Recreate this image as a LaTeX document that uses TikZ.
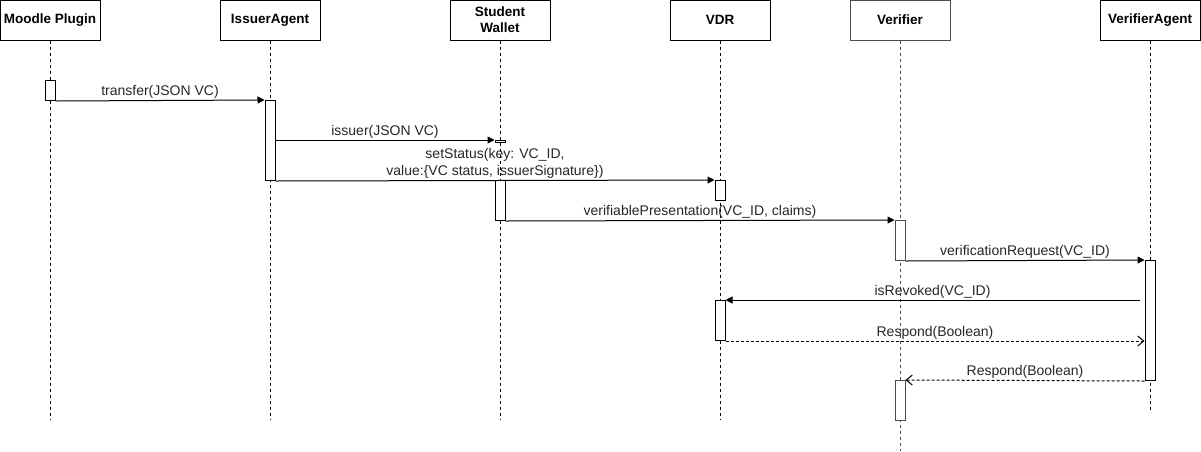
\documentclass[tikz,border=0pt]{standalone}
\usepackage{fontspec}
\setmainfont{Liberation Sans}
\usetikzlibrary{arrows.meta}
\usetikzlibrary{positioning}

\tikzset{
    head/.style={draw, line width=1pt, minimum width=100pt, minimum height=40pt, inner sep=0pt, align=center, font=\bfseries\fontsize{13.5}{16}\selectfont},
    life/.style={line width=1pt, dash pattern=on 3pt off 3pt},
    act/.style={draw, fill=white, line width=1pt, minimum width=10pt, inner sep=0pt, anchor=north},
    msg/.style={line width=1pt, -{Triangle[length=7pt, width=7pt]}},
    reply/.style={line width=1pt, dash pattern=on 3pt off 2pt, -{Straight Barb[length=6pt, width=10pt]}},
    lbl/.style={font=\fontsize{14}{17}\selectfont, inner sep=1.5pt, align=center, text=black!85}
}

\begin{document}
\begin{tikzpicture}[x=1pt, y=-1pt]
        \useasboundingbox (0,0) rectangle (1201,451);

        % Participants
        \foreach \x/\name/\txt in {50/mp/Moodle Plugin, 270/ia/IssuerAgent, 500/sw/{Student\\Wallet}, 720/vdr/VDR, 1150/va/VerifierAgent} {
            \node[head] (\name) at (\x,20) {\txt}; % Header box
        }
        \node[head, draw=black!70] (ver) at (900,20) {Verifier};

        % Lifelines
        \foreach \name/\yend in {mp/420, ia/420, sw/420, vdr/420, va/410} {
            \draw[life] (\name.south) -- (\name.south |- 0,\yend); % Dashed line
        }
        \draw[life, black!70] (ver.south) -- (ver.south |- 0,451);

        % Activation bars
        \node[act, minimum height=20pt] (mpA) at (50,80) {};
        \node[act, minimum height=80pt] (iaA) at (270,100) {};
        \node[act, minimum height=2pt] (swA1) at (500,140) {};
        \node[act, minimum height=40pt] (swA2) at (500,180) {};
        \node[act, minimum height=20pt] (vdrA1) at (720,180) {};
        \node[act, draw=black!70, minimum height=40pt] (verA1) at (900,220) {};
        \node[act, minimum height=120pt] (vaA) at (1150,260) {};
        \node[act, minimum height=40pt] (vdrA2) at (720,300) {};
        \node[act, draw=black!70, minimum height=40pt] (verA2) at (900,380) {};

        % Messages
        \draw[msg] (mpA.south east) -- (iaA.north west) node[lbl, midway, above] {transfer(JSON VC)};
        \draw[msg] (iaA.east |- swA1.north) -- (swA1.north west) node[lbl, midway, above] {issuer(JSON VC)};
        \draw[msg] (iaA.south east) -- (vdrA1.north west) node[lbl, midway, above] {setStatus(key: VC\_ID,\\value:\{VC status, issuerSignature\})};
        \draw[msg] (swA2.south east) -- (verA1.north west) node[lbl, midway, above] {verifiablePresentation(VC\_ID, claims)};
        \draw[msg] (verA1.south east) -- (vaA.north west) node[lbl, midway, above] {verificationRequest(VC\_ID)};
        \draw[msg] ([xshift=-5pt]vaA.west |- vdrA2.north) -- (vdrA2.north east) node[lbl, midway, above] {isRevoked(VC\_ID)};

        % Replies
        \draw[reply] (vdrA2.south east) -- (vaA.west |- vdrA2.south) node[lbl, midway, above] {Respond(Boolean)};
        \draw[reply] (vaA.south west) -- (verA2.north east) node[lbl, midway, above] {Respond(Boolean)};
    \end{tikzpicture}
\end{document}
